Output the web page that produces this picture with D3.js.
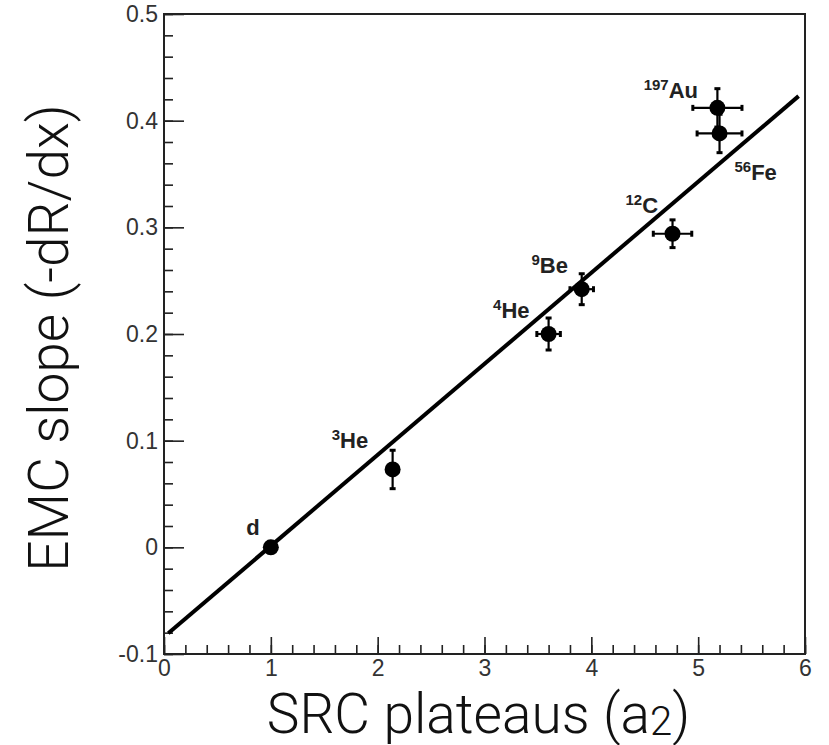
<!DOCTYPE html>
<html>
<head>
  <meta charset="utf-8">
  <style>
    body { margin: 0; background: #fff; }
    text { font-family: "Liberation Sans", Arial, sans-serif; }
    .title { font-family: Roboto, "Open Sans", sans-serif; font-weight: 300; fill: #111; }
    .lbl { font-weight: bold; font-size: 22px; fill: #222; }
  </style>
  <title>EMC slope vs SRC plateaus</title>
  <script src="https://cdn.jsdelivr.net/npm/d3@7/dist/d3.min.js"></script>
</head>
<body>
<script>
  // Data
  const nuclei   = ["d", "3He", "4He", "9Be", "12C", "197Au", "56Fe"];
  const a2       = [1.00, 2.14, 3.60, 3.91, 4.76, 5.18, 5.20];
  const a2Err    = [0.00, 0.00, 0.11, 0.11, 0.18, 0.23, 0.21];
  const emcSlope = [0.000, 0.073, 0.200, 0.242, 0.294, 0.412, 0.388];
  const slopeErr = [0.000, 0.018, 0.015, 0.0145, 0.013, 0.018, 0.018];
  // fit line end points
  const fitX = [0.04, 5.94];
  const fitY = [-0.0806, 0.423];
  const xTicks = [0, 1, 2, 3, 4, 5, 6];
  const yTicks = [-0.1, 0, 0.1, 0.2, 0.3, 0.4, 0.5];

  // label anchors (data units): start x, baseline y
  const labelX = [0.77, 1.57, 3.08, 3.44, 4.32, 4.49, 5.34];
  const labelY = [0.0115, 0.093, 0.215, 0.257, 0.313, 0.421, 0.344];

  const W = 829, H = 745;
  const pLeft = 164, pRight = 805, pTop = 14, pBottom = 654;

  const svg = d3.select("body").append("svg")
      .attr("width", W).attr("height", H);

  const x = d3.scaleLinear().domain([0, 6]).range([pLeft, pRight]);
  const y = d3.scaleLinear().domain([-0.1, 0.5]).range([pBottom, pTop]);

  // minor ticks
  svg.append("g")
      .attr("transform", "translate(0," + pBottom + ")")
      .call(d3.axisBottom(x).tickValues(d3.range(0, 6.01, 0.2)).tickSize(-9).tickFormat(""))
      .call(g => g.select(".domain").remove())
      .selectAll("line").attr("stroke", "#222").attr("stroke-width", 1.6);
  svg.append("g")
      .attr("transform", "translate(" + pLeft + ",0)")
      .call(d3.axisLeft(y).tickValues(d3.range(-0.1, 0.501, 0.02)).tickSize(-9).tickFormat(""))
      .call(g => g.select(".domain").remove())
      .selectAll("line").attr("stroke", "#222").attr("stroke-width", 1.6);

  // major ticks + labels
  const xAxis = svg.append("g")
      .attr("transform", "translate(0," + pBottom + ")")
      .call(d3.axisBottom(x).tickValues(xTicks).tickSize(-17).tickPadding(5).tickFormat(d3.format("d")));
  xAxis.attr("font-size", 23).attr("font-family", null);
  xAxis.select(".domain").remove();
  xAxis.selectAll("line").attr("stroke", "#222").attr("stroke-width", 1.6);
  xAxis.selectAll("text").attr("dy", "0.75em").attr("fill", "#333");

  const yAxis = svg.append("g")
      .attr("transform", "translate(" + pLeft + ",0)")
      .call(d3.axisLeft(y).tickValues(yTicks).tickSize(-20).tickPadding(6)
        .tickFormat(d => d === 0 ? "0" : d.toFixed(1)));
  yAxis.attr("font-size", 23).attr("font-family", null);
  yAxis.select(".domain").remove();
  yAxis.selectAll("line").attr("stroke", "#222").attr("stroke-width", 1.6);
  yAxis.selectAll("text").attr("fill", "#333");

  // frame
  svg.append("rect")
      .attr("x", pLeft).attr("y", pTop)
      .attr("width", pRight - pLeft).attr("height", pBottom - pTop)
      .attr("fill", "none").attr("stroke", "#222").attr("stroke-width", 2);

  // fit line
  svg.append("line")
      .attr("x1", x(fitX[0])).attr("y1", y(fitY[0]))
      .attr("x2", x(fitX[1])).attr("y2", y(fitY[1]))
      .attr("stroke", "#000").attr("stroke-width", 4);

  const pts = nuclei.map((n, i) => ({ n, x: a2[i], xe: a2Err[i], y: emcSlope[i], ye: slopeErr[i] }));

  // error bars
  const eb = svg.append("g").attr("stroke", "#000").attr("stroke-width", 2.2);
  pts.forEach(p => {
    if (p.ye > 0) {
      eb.append("line").attr("x1", x(p.x)).attr("x2", x(p.x)).attr("y1", y(p.y - p.ye)).attr("y2", y(p.y + p.ye));
      [p.y - p.ye, p.y + p.ye].forEach(v =>
        eb.append("line").attr("x1", x(p.x) - 3).attr("x2", x(p.x) + 3).attr("y1", y(v)).attr("y2", y(v)).attr("stroke-width", 3));
    }
    if (p.xe > 0) {
      eb.append("line").attr("y1", y(p.y)).attr("y2", y(p.y)).attr("x1", x(p.x - p.xe)).attr("x2", x(p.x + p.xe));
      [p.x - p.xe, p.x + p.xe].forEach(v =>
        eb.append("line").attr("y1", y(p.y) - 3).attr("y2", y(p.y) + 3).attr("x1", x(v)).attr("x2", x(v)).attr("stroke-width", 3));
    }
  });

  // markers
  svg.append("g").selectAll("circle")
      .data(pts).enter().append("circle")
      .attr("cx", d => x(d.x)).attr("cy", d => y(d.y))
      .attr("r", 8).attr("fill", "#000");

  // nucleus labels with superscript mass number
  nuclei.forEach((n, i) => {
    const m = n.match(/^(\d*)(.*)$/);
    const t = svg.append("text").attr("class", "lbl")
        .attr("x", x(labelX[i])).attr("y", y(labelY[i]));
    if (m[1]) t.append("tspan").attr("font-size", 15).attr("dy", -8).text(m[1]);
    t.append("tspan").attr("dy", m[1] ? 8 : 0).text(m[2]);
  });

  // axis titles
  const xt = svg.append("text").attr("class", "title")
      .attr("font-size", 55)
      .attr("x", (pLeft + pRight) / 2 - 6).attr("y", 733)
      .attr("text-anchor", "middle");
  xt.append("tspan").text("SRC plateaus (a");
  xt.append("tspan").attr("font-size", 40).attr("dy", 2).text("2");
  xt.append("tspan").attr("dy", -2).text(")");

  svg.append("text").attr("class", "title")
      .attr("font-size", 55)
      .attr("transform", "translate(68," + 338 + ") rotate(-90)")
      .attr("text-anchor", "middle")
      .text("EMC slope (-dR/dx)");
</script>
</body>
</html>
